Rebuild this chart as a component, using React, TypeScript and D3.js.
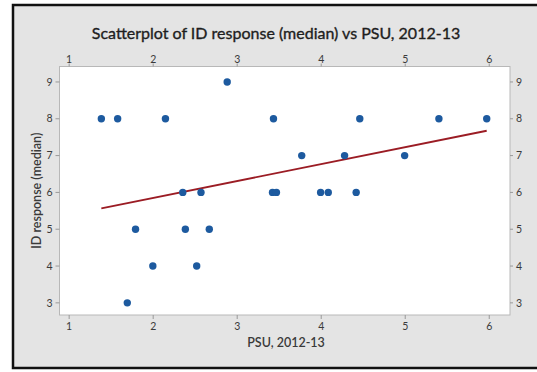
import React from 'react';
import * as d3 from 'd3';

// PSU, 2012-13 values, grouped by median ID response
const psu = [
  2.881,
  1.383, 1.577, 2.146, 3.432, 4.459, 5.401, 5.97,
  3.768, 4.278, 4.993,
  2.352, 2.569, 3.42, 3.467, 3.993, 4.084, 4.416,
  1.79, 2.383, 2.668,
  1.996, 2.518,
  1.692,
];
const idResponse = [
  9,
  8, 8, 8, 8, 8, 8, 8,
  7, 7, 7,
  6, 6, 6, 6, 6, 6, 6,
  5, 5, 5,
  4, 4,
  3,
];
const xTicks = [1, 2, 3, 4, 5, 6];
const yTicks = [3, 4, 5, 6, 7, 8, 9];

const W = 537;
const H = 372;
const plot = { left: 59.5, right: 510, top: 66.5, bottom: 315 };
const font = 'Lato, "Open Sans", sans-serif';

export default function App() {
  const x = d3.scaleLinear().domain([0.885, 6.247]).range([plot.left, plot.right]);
  const y = d3.scaleLinear().domain([2.67, 9.42]).range([plot.bottom, plot.top]);

  // least squares fit, drawn over the range of the data
  const mx = d3.mean(psu)!;
  const my = d3.mean(idResponse)!;
  const sxy = d3.sum(psu, (v, i) => (v - mx) * (idResponse[i] - my));
  const sxx = d3.sum(psu, (v) => (v - mx) * (v - mx));
  const slope = sxy / sxx;
  const icpt = my - slope * mx;
  const [x0, x1] = d3.extent(psu) as [number, number];
  const fit = d3.line<number>().x((d) => x(d)).y((d) => y(icpt + slope * d))([x0, x1]);

  const tickCol = '#999';
  const labCol = '#3a3a3a';

  return (
    <svg width={W} height={H} style={{ position: 'absolute', left: 0, top: 0 }}>
      <rect width={W} height={H} fill="#fff" />
      <rect x={13} y={5} width={540} height={363} fill="#e4e4e4" stroke="#111" strokeWidth={2.5} />
      <text x={276} y={39} textAnchor="middle" fontFamily={font} fontSize={16} fill="#1e1e1e"
        stroke="#1e1e1e" strokeWidth={0.35}>
        Scatterplot of ID response (median) vs PSU, 2012-13
      </text>
      <rect
        x={plot.left}
        y={plot.top}
        width={plot.right - plot.left}
        height={plot.bottom - plot.top}
        fill="#fff"
        stroke="#b8b8b8"
        strokeWidth={1}
      />

      {xTicks.map((t) => (
        <g key={'x' + t}>
          <line x1={x(t)} x2={x(t)} y1={plot.bottom} y2={plot.bottom + 4} stroke={tickCol} />
          <text x={x(t)} y={plot.bottom + 15} textAnchor="middle" fontFamily={font} fontSize={10.5} fill={labCol}>
            {t}
          </text>
          <line x1={x(t)} x2={x(t)} y1={plot.top} y2={plot.top - 3} stroke={tickCol} />
          <text x={x(t)} y={plot.top - 4} textAnchor="middle" fontFamily={font} fontSize={10.5} fill={labCol}>
            {t}
          </text>
        </g>
      ))}
      {yTicks.map((t) => (
        <g key={'y' + t}>
          <line x1={plot.left - 4} x2={plot.left} y1={y(t)} y2={y(t)} stroke={tickCol} />
          <text x={plot.left - 7} y={y(t)} dy="0.35em" textAnchor="end" fontFamily={font} fontSize={10.5} fill={labCol}>
            {t}
          </text>
          <line x1={plot.right} x2={plot.right + 3} y1={y(t)} y2={y(t)} stroke={tickCol} />
          <text x={plot.right + 6} y={y(t)} dy="0.35em" textAnchor="start" fontFamily={font} fontSize={10.5} fill={labCol}>
            {t}
          </text>
        </g>
      ))}

      <text x={286} y={347} textAnchor="middle" fontFamily={font} fontSize={12.5} fontWeight={600} fill={labCol}>
        PSU, 2012-13
      </text>
      <text
        transform={`translate(41, ${(plot.top + plot.bottom) / 2}) rotate(-90)`}
        textAnchor="middle"
        fontFamily={font}
        fontSize={12.5}
        fontWeight={600}
        fill={labCol}
      >
        ID response (median)
      </text>

      <path d={fit ?? ''} fill="none" stroke="#9b1c24" strokeWidth={1.8} />
      {psu.map((v, i) => (
        <circle key={i} cx={x(v)} cy={y(idResponse[i])} r={3.7} fill="#1d5a9f" />
      ))}
    </svg>
  );
}
